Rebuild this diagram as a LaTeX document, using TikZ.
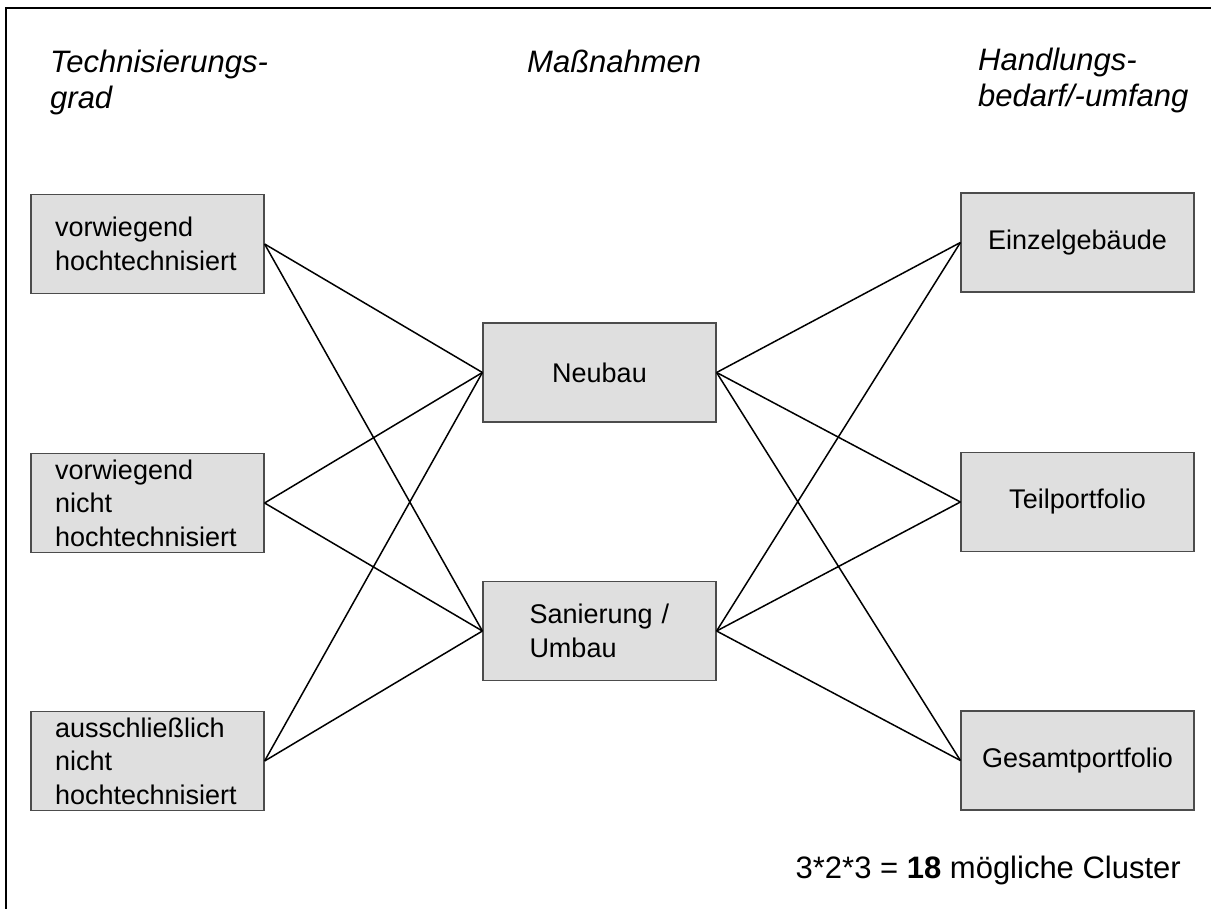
\documentclass[tikz,border=0pt]{standalone}
\usepackage{fontspec}
\setmainfont{Liberation Sans}
\begin{document}
\begin{tikzpicture}[x=1pt,y=-1pt,
  box/.style={draw=black!70, fill=gray!25, line width=1.2pt, minimum width=233pt, minimum height=99pt, inner sep=0pt, font=\fontsize{27}{33.5}\selectfont},
  lbox/.style={box, align=left, text width=185pt},
  title/.style={font=\fontsize{31}{36}\selectfont\itshape, align=left, inner sep=0pt, anchor=base west},
  link/.style={line width=1.5pt}]
\useasboundingbox (0,0) rectangle (1211,909);
\draw[line width=2pt] (6,909) -- (6,8) -- (1211,8);
% titles (base anchor = last line)
\node[title] (h1) at (50,109) {Technisierungs-\\grad};
\node[title] (h2) at (527,73) {Maßnahmen};
\node[title] (h3) at (978,107) {Handlungs-\\bedarf/-umfang};
% left boxes
\node[lbox] (l1) at (147.5,244) {vorwiegend\\hochtechnisiert};
\node[lbox] (l2) at (147.5,503) {vorwiegend\\nicht\\hochtechnisiert};
\node[lbox] (l3) at (147.5,761) {ausschließlich\\nicht\\hochtechnisiert};
% middle boxes
\node[box] (m1) at (599.5,372.5) {Neubau};
\node[box, align=left, text width=140pt] (m2) at (599.5,631) {Sanierung /\\Umbau};
% right boxes
\node[box] (r1) at (1077.5,242.5) {Einzelgebäude};
\node[box] (r2) at (1077.5,502) {Teilportfolio};
\node[box] (r3) at (1077.5,760.5) {Gesamtportfolio};
% links
\foreach \l in {l1,l2,l3}{\foreach \m in {m1,m2}{\draw[link] (\l.east) -- (\m.west);}}
\foreach \m in {m1,m2}{\foreach \r in {r1,r2,r3}{\draw[link] (\m.east) -- (\r.west);}}
% bottom text
\node[anchor=base east, inner sep=0pt, font=\fontsize{31}{36}\selectfont] (res) at (1181,878) {3*2*3 = \textbf{18} mögliche Cluster};
\end{tikzpicture}
\end{document}
